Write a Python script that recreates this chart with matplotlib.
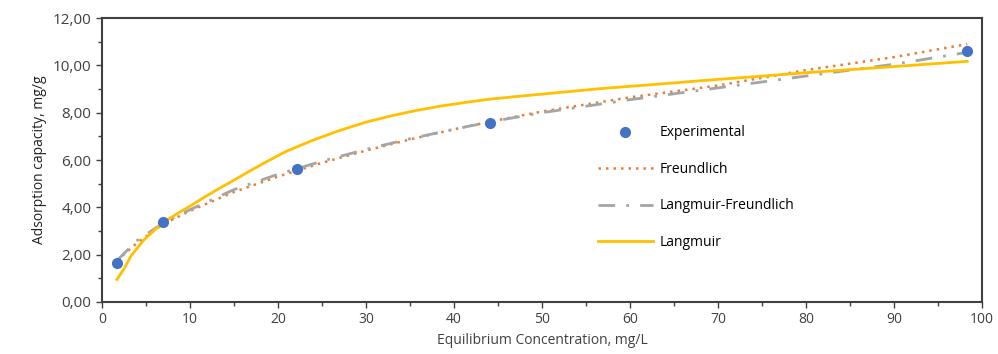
import matplotlib as mpl
mpl.use('Agg')
import matplotlib.pyplot as plt
from matplotlib.ticker import FuncFormatter, MultipleLocator

plt.rcParams['font.family'] = ['Open Sans', 'DejaVu Sans']

# experimental points
exp_c = [1.7, 6.9, 22.1, 44.1, 98.3]
exp_q = [1.65, 3.40, 5.62, 7.58, 10.60]

# model curves
freu_c = [1.7, 4, 7, 10, 15, 20, 25, 30, 35, 40, 44.2, 50, 60, 70, 80, 90, 98.3]
freu_q = [1.75, 2.5, 3.3, 3.85, 4.65, 5.3, 5.88, 6.4, 6.87, 7.3, 7.63, 8.05, 8.65, 9.15, 9.8, 10.35, 10.9]

lf_c = [1.7, 4, 7, 10, 15, 20, 25, 30, 35, 40, 44.2, 50, 60, 70, 80, 90, 98.3]
lf_q = [1.75, 2.6, 3.35, 3.9, 4.75, 5.4, 5.95, 6.45, 6.9, 7.3, 7.62, 8.0, 8.55, 9.05, 9.55, 10.05, 10.55]

lang_c = [1.7, 2.5, 3.3, 4.7, 6, 7.35, 8.7, 10, 11.5, 13, 15, 17, 18.7, 21, 24, 27, 30, 33, 35.8, 38.5, 41.4, 44, 47, 51, 57, 63, 68, 74, 79.3, 85, 90, 98.3]
lang_q = [0.95, 1.4, 1.95, 2.6, 3.05, 3.45, 3.77, 4.05, 4.4, 4.73, 5.15, 5.58, 5.93, 6.38, 6.84, 7.25, 7.6, 7.88, 8.1, 8.28, 8.44, 8.57, 8.68, 8.82, 9.03, 9.2, 9.35, 9.52, 9.67, 9.82, 9.95, 10.17]

fig = plt.figure(figsize=(9.98, 3.54), dpi=100)
ax = fig.add_axes([0.1022, 0.147, 0.882, 0.802])

ax.plot(exp_c, exp_q, 'o', color='#4472C4', markersize=7, label='Experimental', zorder=5)
ax.plot(freu_c, freu_q, color='#ED7D31', linestyle=(0, (1, 2)), linewidth=1.8, label='Freundlich')
ax.plot(lf_c, lf_q, color='#A5A5A5', linestyle=(0, (6, 4, 1, 4)), linewidth=2, label='Langmuir-Freundlich')
ax.plot(lang_c, lang_q, color='#FFC000', linewidth=2, label='Langmuir')

ax.set_xlim(0, 100)
ax.set_ylim(0, 12)
ax.xaxis.set_major_locator(MultipleLocator(10))
ax.xaxis.set_minor_locator(MultipleLocator(5))
ax.yaxis.set_major_locator(MultipleLocator(2))
ax.yaxis.set_minor_locator(MultipleLocator(1))
ax.yaxis.set_major_formatter(FuncFormatter(lambda v, p: ("%.2f" % v).replace('.', ',')))

for s in ax.spines.values():
    s.set_color('#404040')
    s.set_linewidth(1.5)
ax.tick_params(which='major', direction='out', length=4, width=1, colors='#404040', labelcolor='#404040', labelsize=10)
ax.tick_params(axis='y', which='major', labelsize=11)
ax.tick_params(which='minor', direction='out', length=3, width=1, colors='#404040')

ax.set_xlabel('Equilibrium Concentration, mg/L', fontsize=10, color='#404040')
ax.set_ylabel('Adsorption capacity, mg/g', fontsize=10, color='#202020')

ax.legend(loc='upper left', bbox_to_anchor=(0.563, 0.622), frameon=False,
          fontsize=10, labelspacing=1.55, handlelength=4, handletextpad=0.5,
          borderpad=0, borderaxespad=0)

plt.savefig('out.png', dpi=100)
